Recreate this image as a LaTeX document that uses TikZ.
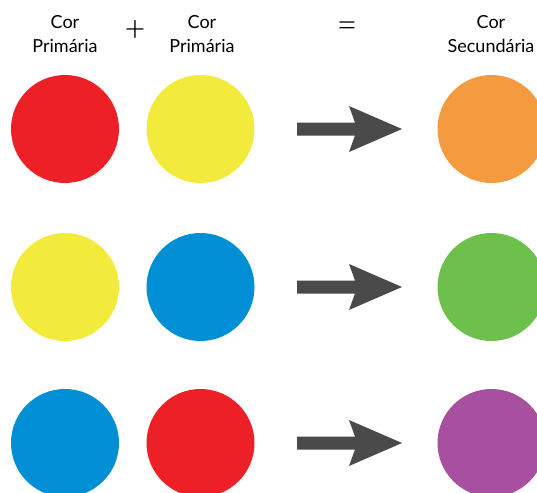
\documentclass[tikz,border=0pt]{standalone}
\usepackage{fontspec}
\setmainfont{Lato}
\newfontfamily\lightfont{Lato Light}
\definecolor{cred}{HTML}{EE2027}
\definecolor{cyellow}{HTML}{F3EB3B}
\definecolor{cblue}{HTML}{008ED5}
\definecolor{corange}{HTML}{F49A3F}
\definecolor{cgreen}{HTML}{6DC04B}
\definecolor{cpurple}{HTML}{A6509F}
\definecolor{arrowgray}{HTML}{4A4A4A}
\begin{document}
\begin{tikzpicture}[x=0.75pt,y=-0.75pt,
  disc/.style={circle,minimum size=108*0.75pt,inner sep=0pt,draw=none},
  label/.style={align=center,font=\fontsize{13.5pt}{17.3pt}\selectfont,inner sep=0pt},
  sign/.style={font=\lightfont\fontsize{27pt}{27pt}\selectfont,inner sep=0pt},
  bigarrow/.style={fill=arrowgray,draw=none}]
\useasboundingbox (0,0) rectangle (537,493);
% headings
\node[label,anchor=base] (h1) at (65,52) {Cor\\Primária};
\node[label,anchor=base] (h2) at (202,52) {Cor\\Primária};
\node[label,anchor=base] (h3) at (491,52) {Cor\\Secundária};
\node[sign] (plus) at (135,31) {+};
\node[sign] (eq) at (347,30) {=};
% colour discs, one row per mixture
\foreach \r/\y/\a/\b/\c in {1/129/cred/cyellow/corange,2/287/cyellow/cblue/cgreen,3/443/cblue/cred/cpurple}{
  \node[disc,fill=\a] (a\r) at (65,\y) {};
  \node[disc,fill=\b] (b\r) at (200.5,\y) {};
  \node[disc,fill=\c] (c\r) at (491.5,\y) {};
  \fill[bigarrow] (297,\y-6.5) -- (355,\y-6.5) -- (349,\y-23) -- (402,\y) -- (349,\y+23) -- (355,\y+6.5) -- (297,\y+6.5) -- cycle;
}
\end{tikzpicture}
\end{document}
